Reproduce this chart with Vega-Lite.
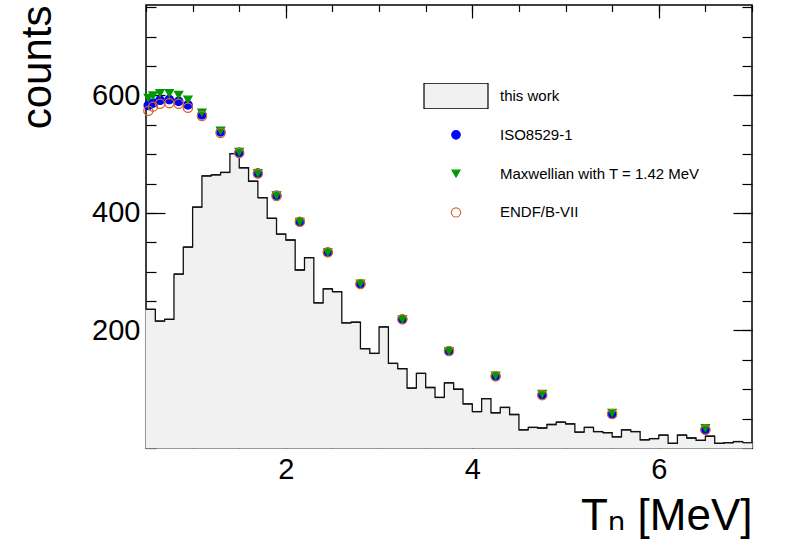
{
  "$schema": "https://vega.github.io/schema/vega-lite/v6.json",
  "width": 606,
  "height": 443,
  "autosize": {"type": "none"},
  "padding": {"left": 146, "top": 5, "right": 36, "bottom": 102},
  "background": "white",
  "config": {
    "font": "Liberation Sans, Arial, Helvetica, DejaVu Sans, sans-serif",
    "view": {"stroke": "black", "strokeWidth": 1.5},
    "axis": {
      "domain": false,
      "grid": false,
      "tickColor": "black",
      "tickWidth": 1.2,
      "labelColor": "black",
      "labelFontSize": 29,
      "labelFont": "Liberation Sans, Arial, Helvetica, sans-serif",
      "titleColor": "black",
      "titleFontWeight": "normal",
      "titleFont": "Liberation Sans, Arial, Helvetica, DejaVu Sans, sans-serif"
    },
    "legend": {
      "labelFont": "Liberation Sans, Arial, Helvetica, sans-serif",
      "labelColor": "black"
    }
  },
  "datasets": {
    "hist": [
      {"lo": 0.5, "hi": 0.6, "count": 236},
      {"lo": 0.6, "hi": 0.7, "count": 216},
      {"lo": 0.7, "hi": 0.8, "count": 219},
      {"lo": 0.8, "hi": 0.9, "count": 296},
      {"lo": 0.9, "hi": 1.0, "count": 342},
      {"lo": 1.0, "hi": 1.1, "count": 410},
      {"lo": 1.1, "hi": 1.2, "count": 463},
      {"lo": 1.2, "hi": 1.3, "count": 465},
      {"lo": 1.3, "hi": 1.4, "count": 469},
      {"lo": 1.4, "hi": 1.5, "count": 501},
      {"lo": 1.5, "hi": 1.6, "count": 477},
      {"lo": 1.6, "hi": 1.7, "count": 454},
      {"lo": 1.7, "hi": 1.8, "count": 426},
      {"lo": 1.8, "hi": 1.9, "count": 391},
      {"lo": 1.9, "hi": 2.0, "count": 364},
      {"lo": 2.0, "hi": 2.1, "count": 354},
      {"lo": 2.1, "hi": 2.2, "count": 303},
      {"lo": 2.2, "hi": 2.3, "count": 324},
      {"lo": 2.3, "hi": 2.4, "count": 247},
      {"lo": 2.4, "hi": 2.5, "count": 271},
      {"lo": 2.5, "hi": 2.6, "count": 266},
      {"lo": 2.6, "hi": 2.7, "count": 213},
      {"lo": 2.7, "hi": 2.8, "count": 214},
      {"lo": 2.8, "hi": 2.9, "count": 169},
      {"lo": 2.9, "hi": 3.0, "count": 161},
      {"lo": 3.0, "hi": 3.1, "count": 206},
      {"lo": 3.1, "hi": 3.2, "count": 144},
      {"lo": 3.2, "hi": 3.3, "count": 135},
      {"lo": 3.3, "hi": 3.4, "count": 102},
      {"lo": 3.4, "hi": 3.5, "count": 127},
      {"lo": 3.5, "hi": 3.6, "count": 103},
      {"lo": 3.6, "hi": 3.7, "count": 86},
      {"lo": 3.7, "hi": 3.8, "count": 111},
      {"lo": 3.8, "hi": 3.9, "count": 100},
      {"lo": 3.9, "hi": 4.0, "count": 75},
      {"lo": 4.0, "hi": 4.1, "count": 62},
      {"lo": 4.1, "hi": 4.2, "count": 84},
      {"lo": 4.2, "hi": 4.3, "count": 60},
      {"lo": 4.3, "hi": 4.4, "count": 69},
      {"lo": 4.4, "hi": 4.5, "count": 57},
      {"lo": 4.5, "hi": 4.6, "count": 31},
      {"lo": 4.6, "hi": 4.7, "count": 35},
      {"lo": 4.7, "hi": 4.8, "count": 34},
      {"lo": 4.8, "hi": 4.9, "count": 40},
      {"lo": 4.9, "hi": 5.0, "count": 44},
      {"lo": 5.0, "hi": 5.1, "count": 41},
      {"lo": 5.1, "hi": 5.2, "count": 27},
      {"lo": 5.2, "hi": 5.3, "count": 35},
      {"lo": 5.3, "hi": 5.4, "count": 28},
      {"lo": 5.4, "hi": 5.5, "count": 26},
      {"lo": 5.5, "hi": 5.6, "count": 19},
      {"lo": 5.6, "hi": 5.7, "count": 31},
      {"lo": 5.7, "hi": 5.8, "count": 28},
      {"lo": 5.8, "hi": 5.9, "count": 14},
      {"lo": 5.9, "hi": 6.0, "count": 16},
      {"lo": 6.0, "hi": 6.1, "count": 22},
      {"lo": 6.1, "hi": 6.2, "count": 8},
      {"lo": 6.2, "hi": 6.3, "count": 22},
      {"lo": 6.3, "hi": 6.4, "count": 17},
      {"lo": 6.4, "hi": 6.5, "count": 13},
      {"lo": 6.5, "hi": 6.6, "count": 20},
      {"lo": 6.6, "hi": 6.7, "count": 8},
      {"lo": 6.7, "hi": 6.8, "count": 9},
      {"lo": 6.8, "hi": 6.9, "count": 11},
      {"lo": 6.9, "hi": 7.0, "count": 9}
    ],
    "points": [
      {"series": "ISO8529-1", "e": 0.525, "counts": 583},
      {"series": "ISO8529-1", "e": 0.575, "counts": 587},
      {"series": "ISO8529-1", "e": 0.65, "counts": 592},
      {"series": "ISO8529-1", "e": 0.75, "counts": 593},
      {"series": "ISO8529-1", "e": 0.85, "counts": 590},
      {"series": "ISO8529-1", "e": 0.95, "counts": 584},
      {"series": "ISO8529-1", "e": 1.1, "counts": 567},
      {"series": "ISO8529-1", "e": 1.3, "counts": 538},
      {"series": "ISO8529-1", "e": 1.5, "counts": 503},
      {"series": "ISO8529-1", "e": 1.7, "counts": 468},
      {"series": "ISO8529-1", "e": 1.9, "counts": 430},
      {"series": "ISO8529-1", "e": 2.15, "counts": 385},
      {"series": "ISO8529-1", "e": 2.45, "counts": 333},
      {"series": "ISO8529-1", "e": 2.8, "counts": 279},
      {"series": "ISO8529-1", "e": 3.25, "counts": 219},
      {"series": "ISO8529-1", "e": 3.75, "counts": 165},
      {"series": "ISO8529-1", "e": 4.25, "counts": 122},
      {"series": "ISO8529-1", "e": 4.75, "counts": 90},
      {"series": "ISO8529-1", "e": 5.5, "counts": 58},
      {"series": "ISO8529-1", "e": 6.5, "counts": 31},
      {"series": "Maxwellian with T = 1.42 MeV", "e": 0.525, "counts": 596},
      {"series": "Maxwellian with T = 1.42 MeV", "e": 0.575, "counts": 600},
      {"series": "Maxwellian with T = 1.42 MeV", "e": 0.65, "counts": 604},
      {"series": "Maxwellian with T = 1.42 MeV", "e": 0.75, "counts": 604},
      {"series": "Maxwellian with T = 1.42 MeV", "e": 0.85, "counts": 601},
      {"series": "Maxwellian with T = 1.42 MeV", "e": 0.95, "counts": 593},
      {"series": "Maxwellian with T = 1.42 MeV", "e": 1.1, "counts": 571},
      {"series": "Maxwellian with T = 1.42 MeV", "e": 1.3, "counts": 540},
      {"series": "Maxwellian with T = 1.42 MeV", "e": 1.5, "counts": 504},
      {"series": "Maxwellian with T = 1.42 MeV", "e": 1.7, "counts": 468},
      {"series": "Maxwellian with T = 1.42 MeV", "e": 1.9, "counts": 430},
      {"series": "Maxwellian with T = 1.42 MeV", "e": 2.15, "counts": 385},
      {"series": "Maxwellian with T = 1.42 MeV", "e": 2.45, "counts": 333},
      {"series": "Maxwellian with T = 1.42 MeV", "e": 2.8, "counts": 280},
      {"series": "Maxwellian with T = 1.42 MeV", "e": 3.25, "counts": 219},
      {"series": "Maxwellian with T = 1.42 MeV", "e": 3.75, "counts": 165},
      {"series": "Maxwellian with T = 1.42 MeV", "e": 4.25, "counts": 123},
      {"series": "Maxwellian with T = 1.42 MeV", "e": 4.75, "counts": 92},
      {"series": "Maxwellian with T = 1.42 MeV", "e": 5.5, "counts": 60},
      {"series": "Maxwellian with T = 1.42 MeV", "e": 6.5, "counts": 34},
      {"series": "ENDF/B-VII", "e": 0.525, "counts": 574},
      {"series": "ENDF/B-VII", "e": 0.575, "counts": 581},
      {"series": "ENDF/B-VII", "e": 0.65, "counts": 586},
      {"series": "ENDF/B-VII", "e": 0.75, "counts": 587},
      {"series": "ENDF/B-VII", "e": 0.85, "counts": 586},
      {"series": "ENDF/B-VII", "e": 0.95, "counts": 579},
      {"series": "ENDF/B-VII", "e": 1.1, "counts": 565},
      {"series": "ENDF/B-VII", "e": 1.3, "counts": 536},
      {"series": "ENDF/B-VII", "e": 1.5, "counts": 502},
      {"series": "ENDF/B-VII", "e": 1.7, "counts": 467},
      {"series": "ENDF/B-VII", "e": 1.9, "counts": 429},
      {"series": "ENDF/B-VII", "e": 2.15, "counts": 385},
      {"series": "ENDF/B-VII", "e": 2.45, "counts": 333},
      {"series": "ENDF/B-VII", "e": 2.8, "counts": 279},
      {"series": "ENDF/B-VII", "e": 3.25, "counts": 219},
      {"series": "ENDF/B-VII", "e": 3.75, "counts": 165},
      {"series": "ENDF/B-VII", "e": 4.25, "counts": 122},
      {"series": "ENDF/B-VII", "e": 4.75, "counts": 90},
      {"series": "ENDF/B-VII", "e": 5.5, "counts": 58},
      {"series": "ENDF/B-VII", "e": 6.5, "counts": 31}
    ]
  },
  "resolve": {"axis": {"x": "independent", "y": "independent"}},
  "layer": [
    {
      "data": {"name": "hist"},
      "mark": {"type": "rect", "fill": "#f1f1f1", "stroke": "#f1f1f1", "strokeWidth": 1},
      "encoding": {
        "x": {
          "field": "lo", "type": "quantitative",
          "scale": {"domain": [0.5, 7], "nice": false, "zero": false},
          "axis": {
            "orient": "bottom", "values": [2, 4, 6], "format": "d",
            "tickSize": -13, "labelPadding": 20,
            "title": "Tₙ [MeV]", "titleFontSize": 44,
            "titleAnchor": "end", "titleAlign": "right", "titleBaseline": "alphabetic",
            "titleX": 606, "titleY": 81
          }
        },
        "x2": {"field": "hi"},
        "y": {
          "field": "count", "type": "quantitative",
          "scale": {"domain": [0, 754], "nice": false, "zero": true},
          "axis": {
            "orient": "left", "values": [200, 400, 600], "format": "d",
            "tickSize": -19, "labelPadding": 25,
            "title": "counts", "titleFontSize": 42, "titleAngle": -90,
            "titleAnchor": "end", "titleAlign": "right", "titleBaseline": "alphabetic",
            "titleX": -96, "titleY": 0
          }
        },
        "y2": {"datum": 0}
      }
    },
    {
      "data": {"name": "hist"},
      "mark": {"type": "line", "interpolate": "step-after", "color": "#111111", "strokeWidth": 1.3},
      "encoding": {
        "x": {
          "field": "lo", "type": "quantitative",
          "scale": {"domain": [0.5, 7], "nice": false, "zero": false},
          "axis": {
            "orient": "bottom", "title": null, "labels": false, "tickSize": -6.5,
            "values": [0.5, 1, 1.5, 2, 2.5, 3, 3.5, 4, 4.5, 5, 5.5, 6, 6.5, 7]
          }
        },
        "y": {
          "field": "count", "type": "quantitative",
          "scale": {"domain": [0, 754], "nice": false, "zero": true},
          "axis": {
            "orient": "left", "title": null, "labels": false, "tickSize": -10,
            "values": [0, 50, 100, 150, 200, 250, 300, 350, 400, 450, 500, 550, 600, 650, 700, 750]
          }
        }
      }
    },
    {
      "data": {"name": "hist"},
      "mark": {"type": "rule", "color": "#111111", "strokeWidth": 1.3},
      "encoding": {
        "x": {
          "field": "lo", "type": "quantitative",
          "scale": {"domain": [0.5, 7], "nice": false, "zero": false},
          "axis": {"orient": "top", "title": null, "labels": false, "tickSize": -13, "values": [2, 4, 6]}
        },
        "x2": {"field": "hi"},
        "y": {
          "field": "count", "type": "quantitative",
          "scale": {"domain": [0, 754], "nice": false, "zero": true},
          "axis": {"orient": "right", "title": null, "labels": false, "tickSize": -19, "values": [200, 400, 600]}
        }
      }
    },
    {
      "data": {"name": "points"},
      "mark": {"type": "point", "strokeWidth": 1.3, "opacity": 1},
      "encoding": {
        "x": {
          "field": "e", "type": "quantitative",
          "scale": {"domain": [0.5, 7], "nice": false, "zero": false},
          "axis": {
            "orient": "top", "title": null, "labels": false, "tickSize": -6.5,
            "values": [0.5, 1, 1.5, 2, 2.5, 3, 3.5, 4, 4.5, 5, 5.5, 6, 6.5, 7]
          }
        },
        "y": {
          "field": "counts", "type": "quantitative",
          "scale": {"domain": [0, 754], "nice": false, "zero": true},
          "axis": {
            "orient": "right", "title": null, "labels": false, "tickSize": -10,
            "values": [0, 50, 100, 150, 200, 250, 300, 350, 400, 450, 500, 550, 600, 650, 700, 750]
          }
        },
        "shape": {
          "field": "series", "type": "nominal",
          "scale": {
            "domain": ["this work", "ISO8529-1", "Maxwellian with T = 1.42 MeV", "ENDF/B-VII"],
            "range": ["M-1,-0.4H1V0.4H-1Z", "circle", "triangle-down", "circle"]
          },
          "legend": {
            "title": null, "orient": "none", "legendX": 277, "legendY": 78,
            "padding": 0, "labelFontSize": 15, "labelOffset": 11,
            "clipHeight": 26, "rowPadding": 12.8, "symbolStrokeWidth": 1.2,
            "labelLimit": 400
          }
        },
        "fill": {
          "field": "series", "type": "nominal",
          "scale": {
            "domain": ["this work", "ISO8529-1", "Maxwellian with T = 1.42 MeV", "ENDF/B-VII"],
            "range": ["#f1f1f1", "#0000ff", "#009900", "transparent"]
          }
        },
        "stroke": {
          "field": "series", "type": "nominal",
          "scale": {
            "domain": ["this work", "ISO8529-1", "Maxwellian with T = 1.42 MeV", "ENDF/B-VII"],
            "range": ["#000000", "#0000ff", "#009900", "#cd6a28"]
          }
        },
        "size": {
          "field": "series", "type": "nominal",
          "scale": {
            "type": "ordinal",
            "domain": ["this work", "ISO8529-1", "Maxwellian with T = 1.42 MeV", "ENDF/B-VII"],
            "range": [4096, 72, 64, 85]
          }
        }
      }
    }
  ]
}
